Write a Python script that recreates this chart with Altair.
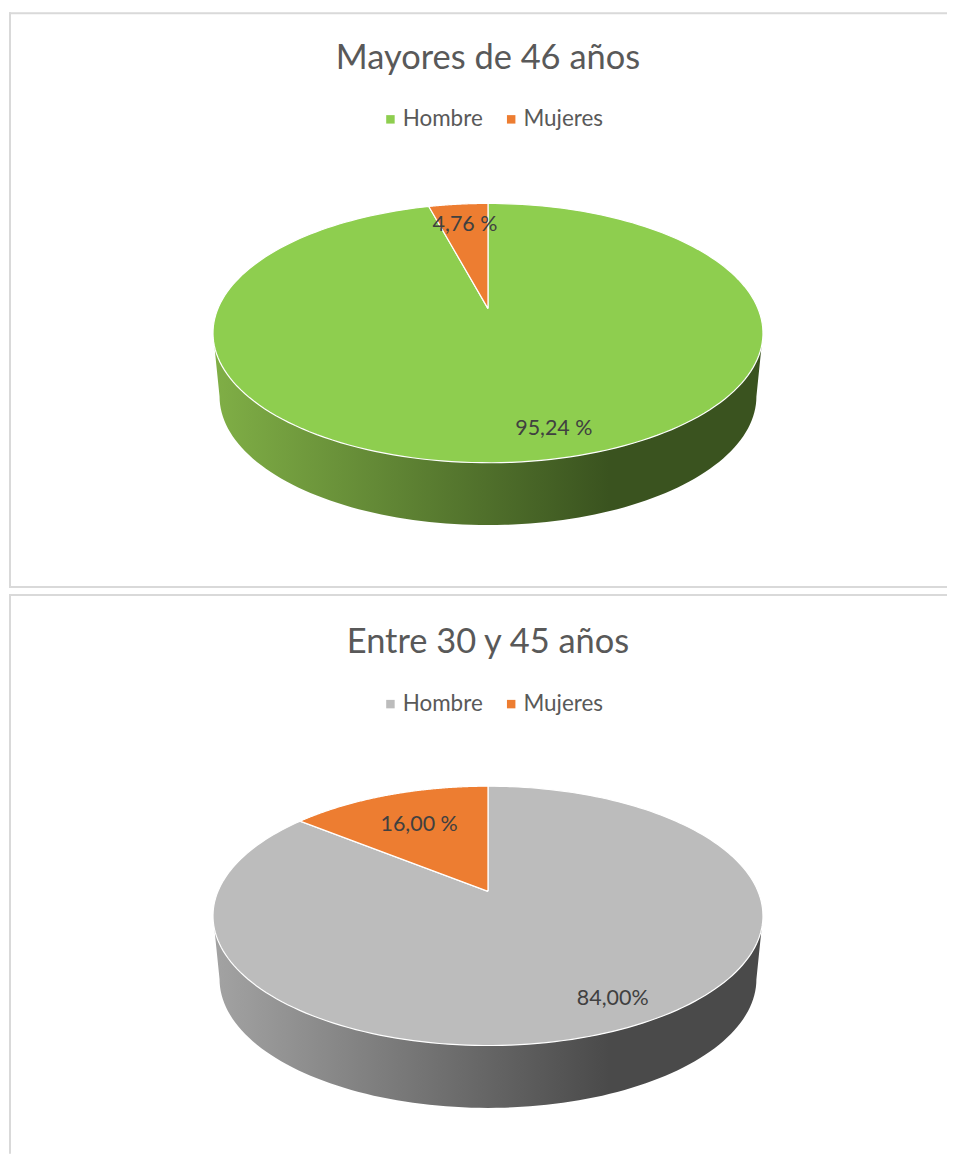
import altair as alt
import pandas as pd

# ---- chart values ----
titles = ["Mayores de 46 años", "Entre 30 y 45 años"]
categories = ["Hombre", "Mujeres"]
hombre_colors = ["#8ECE4F", "#BCBCBC"]
mujeres_color = "#ED7D31"
wall_light = ["#80AF46", "#A3A3A3"]
wall_dark = ["#3A531F", "#4A4A4A"]
# slice shares as drawn (per cent), clockwise from 12 o'clock
hombre_share = [95.83, 85.8]
mujeres_share = [4.17, 14.2]
# printed labels
labels_top = ["4,76 %", "16,00 %"]
labels_bottom = ["95,24 %", "84,00%"]

# ---- layout of a panel ----
PANEL_W = 940
PANEL_HEIGHTS = [577, 561]
APEX_YS = [297, 298]
A, B = 270.6, 125.3      # pixels per pie unit
C = 0.189                # perspective factor
APEX_X = 480
FONT = "Lato"
BORDER = "#D9D9D9"


def scales(h, apex_y):
    x_scale = alt.Scale(domain=[-APEX_X / A, (PANEL_W - APEX_X) / A], nice=False, zero=False)
    y_scale = alt.Scale(domain=[-(h - apex_y) / B, apex_y / B], nice=False, zero=False)
    return alt.X("x:Q", scale=x_scale, axis=None), alt.Y("y:Q", scale=y_scale, axis=None)


def wall(light, dark, X, Y):
    grad = alt.Gradient(
        gradient="linear", x1=0, x2=1, y1=0, y2=0,
        stops=[alt.GradientStop(offset=0, color=light),
               alt.GradientStop(offset=0.72, color=dark),
               alt.GradientStop(offset=1, color=dark)],
    )
    return (
        alt.Chart(alt.sequence(-0.01, 1.0101, 0.01, as_="t"))
        .transform_calculate(
            phi="PI * max(0, min(1, datum.t))",
            x=f"(datum.t < -0.001 ? -275.5 : datum.t > 1.001 ? 275.5 : -269 * cos(datum.phi)) / {A}",
            y=f"((datum.t < -0.001 || datum.t > 1.001) ? -24.5 : -88 - 129 * sin(datum.phi)) / {B}",
        )
        .mark_line(fill=grad, stroke="transparent", strokeWidth=0, interpolate="linear")
        .encode(x=X, y=Y, order=alt.Order("t:Q"))
    )


def slice_layer(cat, start, share, colors, legend, X, Y):
    return (
        alt.Chart(alt.sequence(-0.005, 1.0051, 0.005, as_="t"))
        .transform_calculate(
            category=f"'{cat}'",
            ang=f"2 * PI * ({start} + {share} * max(0, min(1, datum.t))) / 100",
            u="(datum.t < -0.001 || datum.t > 1.001) ? 0 : sin(datum.ang)",
            v="(datum.t < -0.001 || datum.t > 1.001) ? 0 : cos(datum.ang)",
            x=f"datum.u / (1 + {C} * datum.v)",
            y=f"datum.v / (1 + {C} * datum.v)",
        )
        .mark_line(stroke="white", strokeWidth=1.2, interpolate="linear", fill="#000000")
        .encode(
            x=X, y=Y, order=alt.Order("t:Q"),
            fill=alt.Fill("category:N", scale=alt.Scale(domain=categories, range=colors), legend=legend),
        )
    )


def text_layer(text, px, py, size=21.5, color="#404040"):
    return (
        alt.Chart(pd.DataFrame({"label": [text]}))
        .mark_text(font=FONT, fontSize=size, color=color, align="center", baseline="middle")
        .encode(x=alt.value(px), y=alt.value(py), text="label:N")
    )


def border(**channels):
    return (
        alt.Chart(pd.DataFrame({"a": [0]}))
        .mark_rule(color=BORDER, strokeWidth=2)
        .encode(**{k: alt.value(v) for k, v in channels.items()})
    )


def panel(i, title_y, legend_y, top_xy, bottom_xy, bottom_border):
    h = PANEL_HEIGHTS[i]
    X, Y = scales(h, APEX_YS[i])
    legend = alt.Legend(
        orient="none", legendX=371, legendY=legend_y, direction="horizontal", title=None,
        symbolType="square", symbolSize=72, symbolStrokeWidth=0,
        labelFont=FONT, labelFontSize=22.5, labelColor="#595959",
        labelOffset=1, columnPadding=17,
    )
    colors = [hombre_colors[i], mujeres_color]
    layers = [
        border(x=1, y=0, y2=h),
        border(x=0, x2=PANEL_W, y=1),
    ]
    if bottom_border:
        layers.append(border(x=0, x2=PANEL_W, y=h - 1))
    layers += [
        wall(wall_light[i], wall_dark[i], X, Y),
        slice_layer(categories[0], 0, hombre_share[i], colors, legend, X, Y),
        slice_layer(categories[1], hombre_share[i], mujeres_share[i], colors, legend, X, Y),
        text_layer(labels_top[i], *top_xy),
        text_layer(labels_bottom[i], *bottom_xy),
        text_layer(titles[i], 480, title_y, 34.5, "#595959"),
    ]
    return alt.layer(*layers).properties(width=PANEL_W, height=h)


chart = (
    alt.vconcat(
        panel(0, 47, 96, (457, 213), (546, 418), True),
        panel(1, 49, 99, (411, 232), (605, 406), False),
        spacing=4,
    )
    .resolve_scale(fill="independent")
    .configure_view(stroke=None, fill="white")
    .properties(padding={"left": 0, "top": 2, "right": 0, "bottom": 0}, background="white")
)

chart.save("out.html", embed_options={"renderer": "svg", "actions": False})
